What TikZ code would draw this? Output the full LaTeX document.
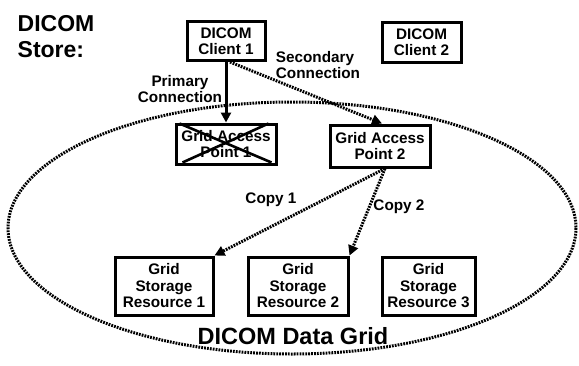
\documentclass[tikz,border=0pt]{standalone}
\usepackage{fontspec}
\setmainfont{Liberation Sans}
\usetikzlibrary{arrows.meta}
\begin{document}
\begin{tikzpicture}[x=1pt,y=-1pt,
  box/.style={draw,line width=3pt,align=center,inner sep=0pt,font=\fontsize{15.3}{16.5}\selectfont\bfseries},
  lbl/.style={font=\fontsize{15.3}{16}\selectfont\bfseries,inner sep=0pt},
  dots/.style={line width=3pt,dash pattern=on 1.8pt off 1.1pt},
  tip/.style={-{Triangle[length=10pt,width=10pt]}}]
\useasboundingbox (0,0) rectangle (579,365);
% grid ellipse
\draw[dots] (292,228) ellipse [x radius=284, y radius=126];
% title
\node[font=\fontsize{23}{26}\selectfont\bfseries,align=left,inner sep=0pt] (store) at (56,37) {DICOM\\Store:};
% boxes
\node[box,minimum width=78pt,minimum height=39pt] (c1) at (226,41) {DICOM\\Client 1};
\node[box,minimum width=79pt,minimum height=40pt] (c2) at (421.5,42) {DICOM\\Client 2};
\node[box,minimum width=100pt,minimum height=40pt] (g1) at (226,144) {Grid Access\\Point 1};
\node[box,minimum width=100pt,minimum height=42pt] (g2) at (380,146) {Grid Access\\Point 2};
\node[box,minimum width=98pt,minimum height=58pt] (s1) at (164,286) {Grid\\Storage\\Resource 1};
\node[box,minimum width=100pt,minimum height=58pt] (s2) at (298,286) {Grid\\Storage\\Resource 2};
\node[box,minimum width=93pt,minimum height=58pt] (s3) at (428.5,286) {Grid\\Storage\\Resource 3};
% cross over failed access point
\draw[line width=2.6pt] ([xshift=5pt,yshift=-1pt]g1.north west) -- ([xshift=-6pt,yshift=3pt]g1.south east);
\draw[line width=2.6pt] ([xshift=-9pt,yshift=-1pt]g1.north east) -- ([xshift=8pt,yshift=3pt]g1.south west);
% connectors
\draw[line width=3pt,tip] (c1.south) -- (g1.north);
\draw[dots,tip] ([xshift=4pt]c1.south) -- ([xshift=2pt]g2.north);
\draw[dots,tip] ([xshift=5pt]g2.south) -- (s1.north east);
\draw[dots,tip] ([xshift=5pt]g2.south) -- (s2.north east);
% labels
\node[lbl,align=center] (lp) at (180,89) {Primary\\Connection};
\node[lbl,align=left] (ls) at (318,65) {Secondary\\Connection};
\node[lbl] (l1) at (271,200) {Copy 1};
\node[lbl] (l2) at (399,207) {Copy 2};
\node[font=\fontsize{23.5}{26}\selectfont\bfseries,inner sep=0pt] (grid) at (293,336) {DICOM Data Grid};
\end{tikzpicture}
\end{document}
